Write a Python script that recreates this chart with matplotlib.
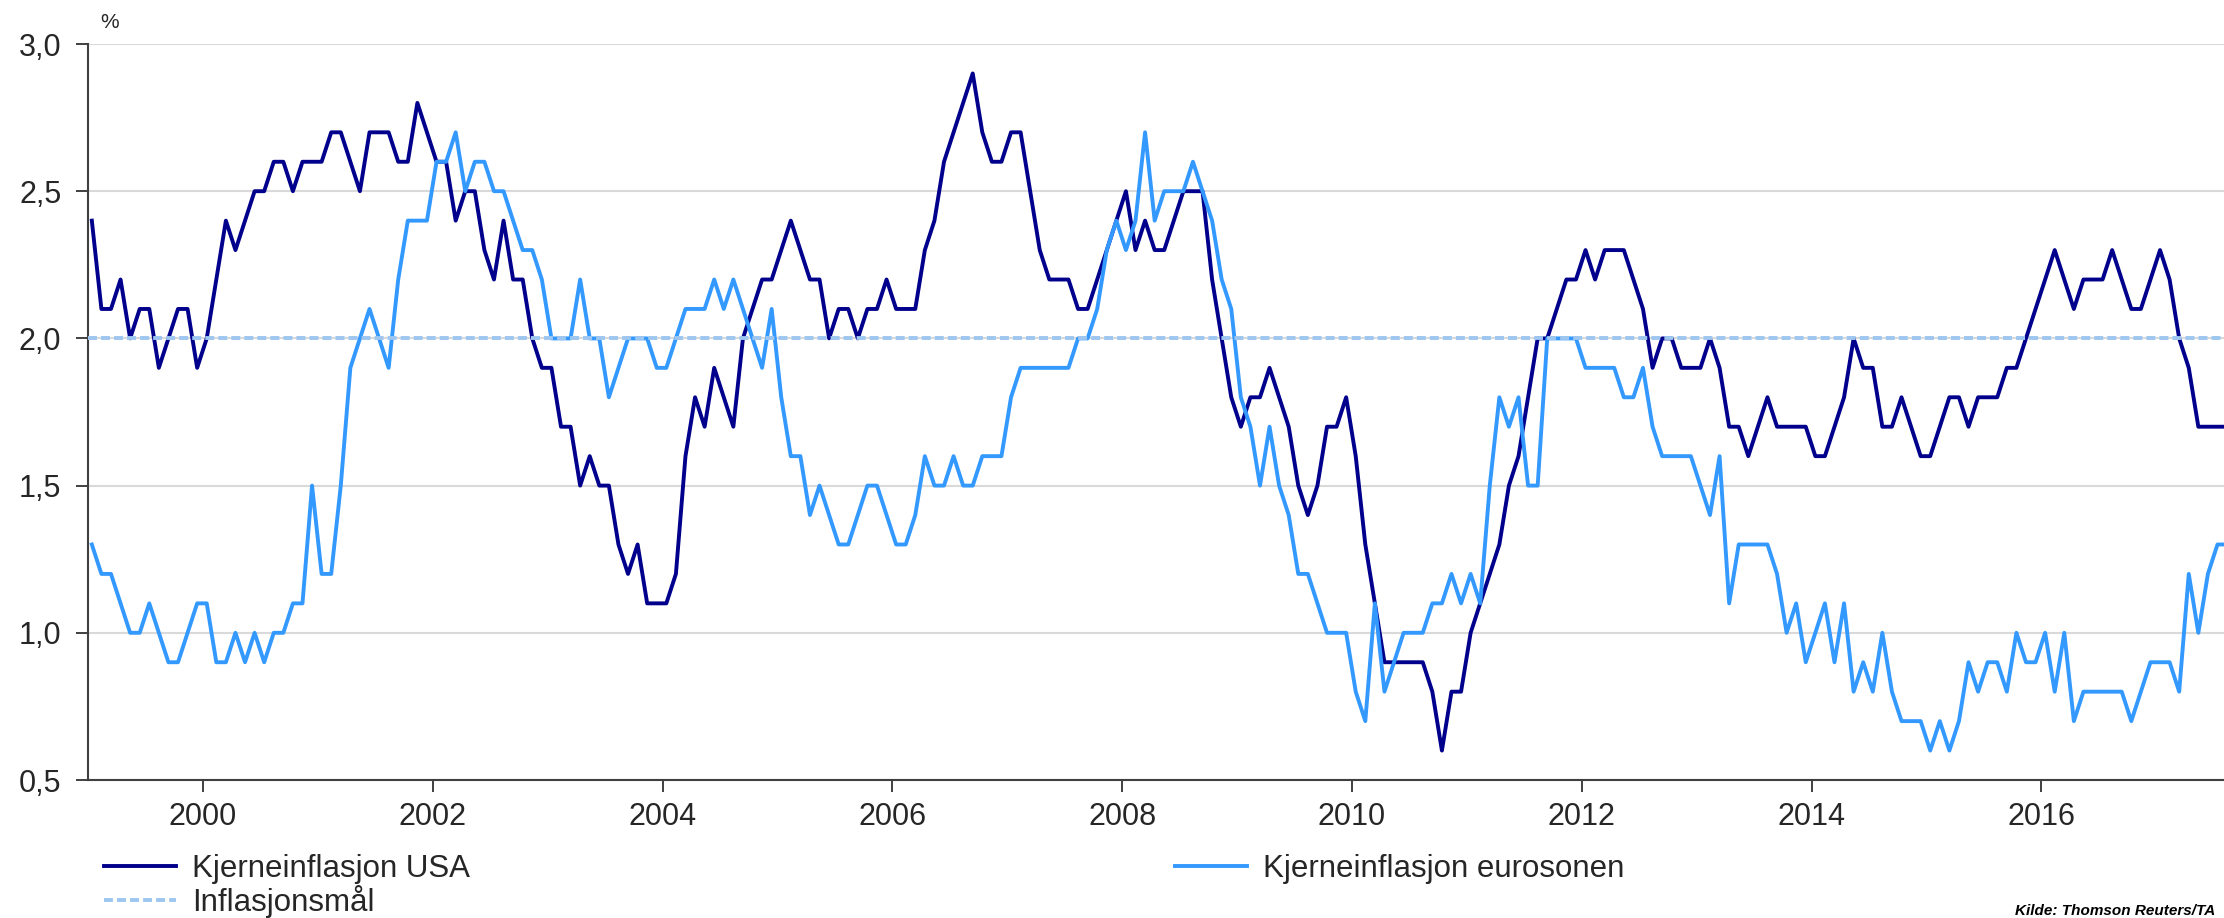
import numpy as np
import matplotlib.pyplot as plt
from matplotlib.ticker import FuncFormatter

# Kjerneinflasjon, månedlige tall fra jan 1999 til aug 2017 (prosent)
usa = [
    2.4, 2.1, 2.1, 2.2, 2.0, 2.1, 2.1, 1.9, 2.0, 2.1, 2.1, 1.9,  # 1999
    2.0, 2.2, 2.4, 2.3, 2.4, 2.5, 2.5, 2.6, 2.6, 2.5, 2.6, 2.6,  # 2000
    2.6, 2.7, 2.7, 2.6, 2.5, 2.7, 2.7, 2.7, 2.6, 2.6, 2.8, 2.7,  # 2001
    2.6, 2.6, 2.4, 2.5, 2.5, 2.3, 2.2, 2.4, 2.2, 2.2, 2.0, 1.9,  # 2002
    1.9, 1.7, 1.7, 1.5, 1.6, 1.5, 1.5, 1.3, 1.2, 1.3, 1.1, 1.1,  # 2003
    1.1, 1.2, 1.6, 1.8, 1.7, 1.9, 1.8, 1.7, 2.0, 2.1, 2.2, 2.2,  # 2004
    2.3, 2.4, 2.3, 2.2, 2.2, 2.0, 2.1, 2.1, 2.0, 2.1, 2.1, 2.2,  # 2005
    2.1, 2.1, 2.1, 2.3, 2.4, 2.6, 2.7, 2.8, 2.9, 2.7, 2.6, 2.6,  # 2006
    2.7, 2.7, 2.5, 2.3, 2.2, 2.2, 2.2, 2.1, 2.1, 2.2, 2.3, 2.4,  # 2007
    2.5, 2.3, 2.4, 2.3, 2.3, 2.4, 2.5, 2.5, 2.5, 2.2, 2.0, 1.8,  # 2008
    1.7, 1.8, 1.8, 1.9, 1.8, 1.7, 1.5, 1.4, 1.5, 1.7, 1.7, 1.8,  # 2009
    1.6, 1.3, 1.1, 0.9, 0.9, 0.9, 0.9, 0.9, 0.8, 0.6, 0.8, 0.8,  # 2010
    1.0, 1.1, 1.2, 1.3, 1.5, 1.6, 1.8, 2.0, 2.0, 2.1, 2.2, 2.2,  # 2011
    2.3, 2.2, 2.3, 2.3, 2.3, 2.2, 2.1, 1.9, 2.0, 2.0, 1.9, 1.9,  # 2012
    1.9, 2.0, 1.9, 1.7, 1.7, 1.6, 1.7, 1.8, 1.7, 1.7, 1.7, 1.7,  # 2013
    1.6, 1.6, 1.7, 1.8, 2.0, 1.9, 1.9, 1.7, 1.7, 1.8, 1.7, 1.6,  # 2014
    1.6, 1.7, 1.8, 1.8, 1.7, 1.8, 1.8, 1.8, 1.9, 1.9, 2.0, 2.1,  # 2015
    2.2, 2.3, 2.2, 2.1, 2.2, 2.2, 2.2, 2.3, 2.2, 2.1, 2.1, 2.2,  # 2016
    2.3, 2.2, 2.0, 1.9, 1.7, 1.7, 1.7, 1.7,                      # 2017
]

euro = [
    1.3, 1.2, 1.2, 1.1, 1.0, 1.0, 1.1, 1.0, 0.9, 0.9, 1.0, 1.1,  # 1999
    1.1, 0.9, 0.9, 1.0, 0.9, 1.0, 0.9, 1.0, 1.0, 1.1, 1.1, 1.5,  # 2000
    1.2, 1.2, 1.5, 1.9, 2.0, 2.1, 2.0, 1.9, 2.2, 2.4, 2.4, 2.4,  # 2001
    2.6, 2.6, 2.7, 2.5, 2.6, 2.6, 2.5, 2.5, 2.4, 2.3, 2.3, 2.2,  # 2002
    2.0, 2.0, 2.0, 2.2, 2.0, 2.0, 1.8, 1.9, 2.0, 2.0, 2.0, 1.9,  # 2003
    1.9, 2.0, 2.1, 2.1, 2.1, 2.2, 2.1, 2.2, 2.1, 2.0, 1.9, 2.1,  # 2004
    1.8, 1.6, 1.6, 1.4, 1.5, 1.4, 1.3, 1.3, 1.4, 1.5, 1.5, 1.4,  # 2005
    1.3, 1.3, 1.4, 1.6, 1.5, 1.5, 1.6, 1.5, 1.5, 1.6, 1.6, 1.6,  # 2006
    1.8, 1.9, 1.9, 1.9, 1.9, 1.9, 1.9, 2.0, 2.0, 2.1, 2.3, 2.4,  # 2007
    2.3, 2.4, 2.7, 2.4, 2.5, 2.5, 2.5, 2.6, 2.5, 2.4, 2.2, 2.1,  # 2008
    1.8, 1.7, 1.5, 1.7, 1.5, 1.4, 1.2, 1.2, 1.1, 1.0, 1.0, 1.0,  # 2009
    0.8, 0.7, 1.1, 0.8, 0.9, 1.0, 1.0, 1.0, 1.1, 1.1, 1.2, 1.1,  # 2010
    1.2, 1.1, 1.5, 1.8, 1.7, 1.8, 1.5, 1.5, 2.0, 2.0, 2.0, 2.0,  # 2011
    1.9, 1.9, 1.9, 1.9, 1.8, 1.8, 1.9, 1.7, 1.6, 1.6, 1.6, 1.6,  # 2012
    1.5, 1.4, 1.6, 1.1, 1.3, 1.3, 1.3, 1.3, 1.2, 1.0, 1.1, 0.9,  # 2013
    1.0, 1.1, 0.9, 1.1, 0.8, 0.9, 0.8, 1.0, 0.8, 0.7, 0.7, 0.7,  # 2014
    0.6, 0.7, 0.6, 0.7, 0.9, 0.8, 0.9, 0.9, 0.8, 1.0, 0.9, 0.9,  # 2015
    1.0, 0.8, 1.0, 0.7, 0.8, 0.8, 0.8, 0.8, 0.8, 0.7, 0.8, 0.9,  # 2016
    0.9, 0.9, 0.8, 1.2, 1.0, 1.2, 1.3, 1.3,                      # 2017
]

maal = 2.0  # inflasjonsmål
startAar = 1999
xTicks = [2000, 2002, 2004, 2006, 2008, 2010, 2012, 2014, 2016]
yTicks = [0.5, 1.0, 1.5, 2.0, 2.5, 3.0]

plt.rcParams['font.family'] = ['Liberation Sans', 'DejaVu Sans']
tekstFarge = '#262626'

# x-verdier som desimalår, midt i måneden
aar = startAar + (np.arange(len(usa)) + 0.4) / 12

W, H = 2224, 918
fig = plt.figure(figsize=(W / 100, H / 100), dpi=100)
ax = fig.add_axes([88 / W, 1 - 780 / H, (W - 88) / W, (780 - 44) / H])

linjeUSA, = ax.plot(aar, usa, color='#00008c', lw=2.8, zorder=3)
linjeEuro, = ax.plot(aar, euro, color='#3399ff', lw=2.8, zorder=3)
linjeMaal = ax.axhline(maal, color='#9dc6f0', lw=2.8, ls=(0, (2.3, 1.05)), zorder=4)

ax.set_xlim(startAar, startAar + (W - 88) / 114.9)
ax.set_ylim(yTicks[0], yTicks[-1])
ax.set_xticks(xTicks)
ax.set_xticklabels([str(t) for t in xTicks])
ax.set_yticks(yTicks)
ax.yaxis.set_major_formatter(FuncFormatter(lambda v, p: f'{v:.1f}'.replace('.', ',')))

ax.grid(axis='y', color='#d9d9d9', lw=1.5)
ax.set_axisbelow(True)
for s in ['top', 'right']:
    ax.spines[s].set_visible(False)
for s in ['left', 'bottom']:
    ax.spines[s].set_color('#404040')
    ax.spines[s].set_linewidth(1.5)

ax.tick_params(axis='y', length=8.6, width=1.4, pad=10.5, labelsize=22,
               color='#404040', labelcolor=tekstFarge)
ax.tick_params(axis='x', length=8.6, width=1.4, pad=7, labelsize=22,
               color='#404040', labelcolor=tekstFarge)

# Tegnforklaring under figuren
felles = dict(loc='upper left', frameon=False, fontsize=22.5, handlelength=2.29,
              handletextpad=0.52, borderpad=0, borderaxespad=0, labelspacing=0.02,
              labelcolor=tekstFarge)
fig.legend([linjeUSA, linjeMaal], ['Kjerneinflasjon USA', 'Inflasjonsmål'],
           bbox_to_anchor=(104 / W, 1 - 854 / H), **felles)
fig.legend([linjeEuro], ['Kjerneinflasjon eurosonen'],
           bbox_to_anchor=(1175 / W, 1 - 854 / H), **felles)

fig.text(100 / W, 1 - 22 / H, '%', fontsize=15, va='center', ha='left', color=tekstFarge)
fig.text(2015 / W, 3 / H, 'Kilde: Thomson Reuters/TA', fontsize=11, fontweight='bold',
         fontstyle='italic', ha='left', va='baseline', color='#000000')

fig.savefig('out.png', dpi=100)
